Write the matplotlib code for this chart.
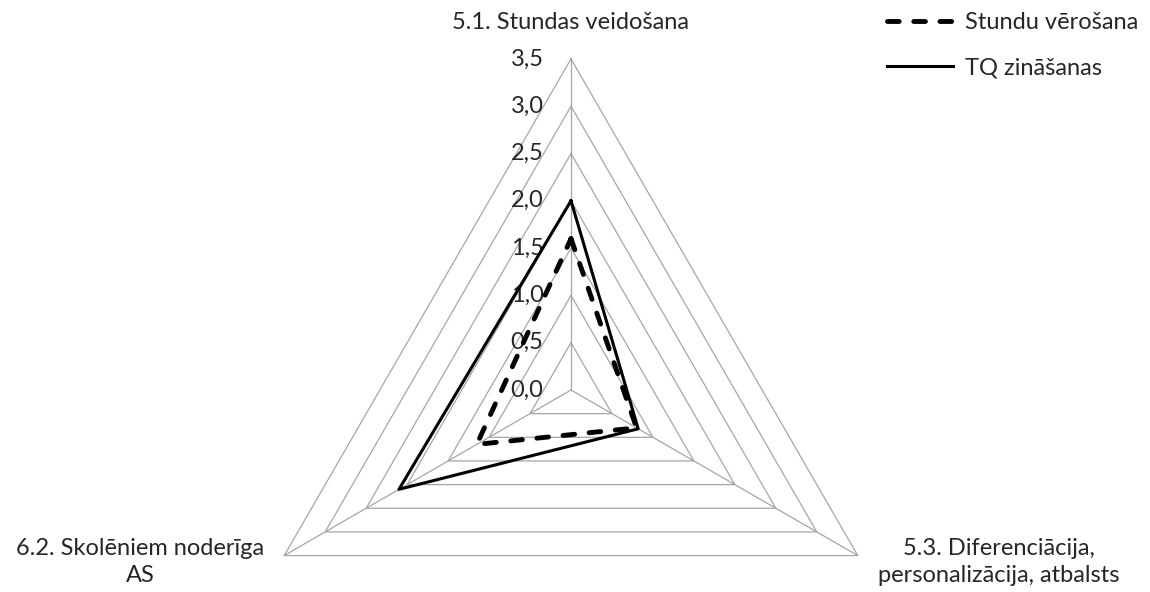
import numpy as np
import matplotlib.pyplot as plt

plt.rcParams['font.family'] = ['Lato', 'DejaVu Sans']

# categories (clockwise from top) and values
categories = ["5.1. Stundas veidošana",
              "5.3. Diferenciācija,\npersonalizācija, atbalsts",
              "6.2. Skolēniem noderīga\nAS"]
stundu_verosana = [1.6, 0.8, 1.15]
tq_zinasanas = [2.0, 0.82, 2.1]
ticks = [0.0, 0.5, 1.0, 1.5, 2.0, 2.5, 3.0, 3.5]
tick_labels = ["0,0", "0,5", "1,0", "1,5", "2,0", "2,5", "3,0", "3,5"]

angles = np.deg2rad([90, -30, 210])

def xy(vals):
    v = np.append(vals, vals[0])
    a = np.append(angles, angles[0])
    return v * np.cos(a), v * np.sin(a)

fig = plt.figure(figsize=(11.5, 5.92), dpi=100)
ax = fig.add_axes([0, 0, 1, 1])
ax.set_xlim(-571 / 94.6, (1150 - 571) / 94.6)
ax.set_ylim(-(592 - 390) / 94.6, 390 / 94.6)
ax.set_aspect('equal')
ax.axis('off')

grid_col = '#a6a6a6'
rmax = ticks[-1]
for t in ticks:
    gx, gy = xy([t] * 3)
    ax.plot(gx, gy, color=grid_col, lw=0.9, zorder=1)
for a in angles:
    ax.plot([0, rmax * np.cos(a)], [0, rmax * np.sin(a)], color=grid_col, lw=0.9, zorder=1)

txt_col = '#262626'
fs = 17
for t, lab in zip(ticks, tick_labels):
    ax.text(-0.29, t, lab, ha='right', va='center', fontsize=fs, color=txt_col)

# category labels
ax.text(0, 3.89, categories[0], ha='center', va='center', fontsize=fs, color=txt_col)
ax.text((999 - 571) / 94.6, -(562 - 390) / 94.6, categories[1], ha='center', va='center',
        fontsize=fs, color=txt_col, linespacing=1.3)
ax.text((140 - 571) / 94.6, -(562 - 390) / 94.6, categories[2], ha='center', va='center',
        fontsize=fs, color=txt_col, linespacing=1.3)

sx, sy = xy(stundu_verosana)
ax.plot(sx, sy, color='black', lw=3.5, ls=(0, (2.4, 3.0)), dash_capstyle='round',
        label='Stundu vērošana', zorder=3)
tx, ty = xy(tq_zinasanas)
ax.plot(tx, ty, color='black', lw=2.2, label='TQ zināšanas', zorder=3)

leg = ax.legend(loc='upper right', bbox_to_anchor=(1.0, 1.0), frameon=False, fontsize=fs,
                handlelength=2.8, labelspacing=1.05, handletextpad=0.5, borderaxespad=0.1)
for t in leg.get_texts():
    t.set_color(txt_col)

fig.savefig('out.png', dpi=100)
